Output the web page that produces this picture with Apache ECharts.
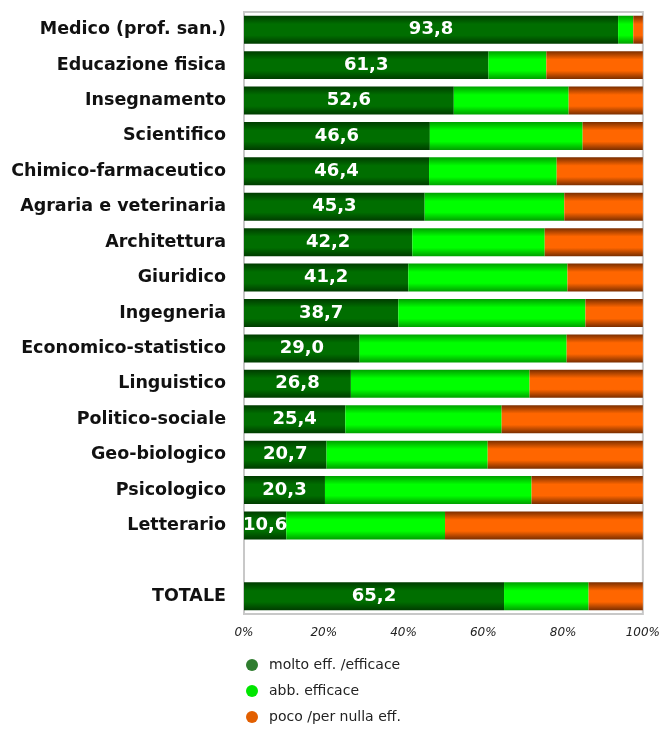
<!DOCTYPE html>
<html>
<head>
<meta charset="utf-8">
<script src="https://cdn.jsdelivr.net/npm/echarts@6/dist/echarts.min.js"></script>
<style>
  html, body { margin: 0; padding: 0; background: #fff; }
  #chart { width: 663px; height: 729px; }
</style>
</head>
<body>
<div id="chart"></div>
<script>
// categories, top to bottom ('' is the blank row before TOTALE)
var categories = ['Medico (prof. san.)', 'Educazione fisica', 'Insegnamento', 'Scientifico',
  'Chimico-farmaceutico', 'Agraria e veterinaria', 'Architettura', 'Giuridico', 'Ingegneria',
  'Economico-statistico', 'Linguistico', 'Politico-sociale', 'Geo-biologico', 'Psicologico',
  'Letterario', '', 'TOTALE']
var seriesNames = ['molto eff. /efficace', 'abb. efficace', 'poco /per nulla eff.']
var moltoEff = [93.8, 61.3, 52.6, 46.6, 46.4, 45.3, 42.2, 41.2, 38.7, 29.0, 26.8, 25.4, 20.7, 20.3, 10.6, null, 65.2]
var abbEff = [3.8, 14.5, 28.8, 38.3, 32.0, 35.0, 33.2, 39.9, 46.9, 51.9, 44.8, 39.2, 40.4, 51.8, 39.8, null, 21.2]
var pocoEff = [2.4, 24.2, 18.6, 15.1, 21.6, 19.7, 24.6, 18.9, 14.4, 19.1, 28.4, 35.4, 38.9, 27.9, 49.6, null, 13.6]
var xTicks = [0, 20, 40, 60, 80, 100]

// shaded bar fill, dark at the edges and bright in the middle
function shade(edge, mid) {
  return new echarts.graphic.LinearGradient(0, 0, 0, 1, [
    { offset: 0, color: edge },
    { offset: 0.3, color: mid },
    { offset: 0.7, color: mid },
    { offset: 1, color: edge }
  ])
}

var chart = echarts.init(document.getElementById('chart'))
chart.setOption({
  animation: false,
  grid: {
    left: 244,
    right: 18,
    top: 12,
    bottom: 115,
    show: true,
    borderColor: '#c8c8c8',
    borderWidth: 2
  },
  legend: {
    orient: 'vertical',
    left: 246,
    top: 658,
    padding: 0,
    itemWidth: 12,
    itemHeight: 12,
    itemGap: 12,
    icon: 'circle',
    textStyle: { fontFamily: 'DejaVu Sans', fontSize: 14, color: '#222', padding: [0, 0, 0, 6] },
    data: [
      { name: seriesNames[0], itemStyle: { color: '#2f7d2f' } },
      { name: seriesNames[1], itemStyle: { color: '#00e600' } },
      { name: seriesNames[2], itemStyle: { color: '#e25f00' } }
    ]
  },
  xAxis: {
    type: 'value',
    min: xTicks[0],
    max: xTicks[xTicks.length - 1],
    interval: 20,
    axisLine: { show: false },
    axisTick: { show: false },
    splitLine: { show: false },
    axisLabel: {
      formatter: '{value}%',
      fontFamily: 'DejaVu Sans',
      fontStyle: 'italic',
      fontSize: 12,
      color: '#222',
      margin: 13
    }
  },
  yAxis: {
    type: 'category',
    inverse: true,
    data: categories,
    axisLine: { show: false },
    axisTick: { show: false },
    axisLabel: {
      fontFamily: 'DejaVu Sans',
      fontWeight: 'bold',
      fontSize: 17.5,
      color: '#111',
      margin: 18
    }
  },
  series: [{
    name: seriesNames[0],
    type: 'bar',
    stack: 'tot',
    barCategoryGap: '21%',
    data: moltoEff,
    itemStyle: { color: shade('#003c00', '#006e00') },
    label: {
      show: true,
      position: 'inside',
      color: '#fff',
      fontFamily: 'DejaVu Sans',
      fontWeight: 'bold',
      fontSize: 18,
      formatter: function(p) {
        return p.value == null ? '' : p.value.toFixed(1).replace('.', ',')
      }
    }
  }, {
    name: seriesNames[1],
    type: 'bar',
    stack: 'tot',
    data: abbEff,
    itemStyle: { color: shade('#00a000', '#00ff00') }
  }, {
    name: seriesNames[2],
    type: 'bar',
    stack: 'tot',
    data: pocoEff,
    itemStyle: { color: shade('#7a2e00', '#ff6600') }
  }]
})
</script>
</body>
</html>
